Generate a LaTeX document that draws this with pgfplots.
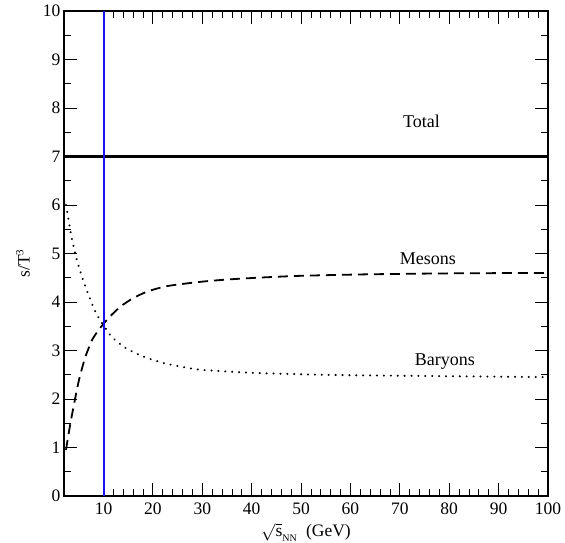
\documentclass[border=0pt]{standalone}
\usepackage{pgfplots}
\pgfplotsset{compat=1.18}
\usepackage{fontspec}
\setmainfont{Liberation Serif}
\definecolor{vblue}{RGB}{20,20,235}
\begin{document}
\begin{tikzpicture}
\begin{axis}[
  scale only axis,
  width=484bp, height=485bp,
  xmin=2, xmax=100, ymin=0, ymax=10,
  xtick={10,20,...,100},
  ytick={0,1,...,10},
  minor x tick num=4,
  minor y tick num=1,
  tick align=inside,
  major tick length=13bp,
  minor tick length=7bp,
  axis line style={line width=2pt},
  major tick style={draw=black, line width=0.8pt},
  minor tick style={draw=black, line width=0.8pt},
  /pgf/number format/assume math mode=true,
  tick label style={font=\fontsize{17.5bp}{20bp}\selectfont},
  xticklabel style={yshift=-3bp},
  xlabel={$\sqrt{\mbox{s}}_{\mbox{\fontsize{10bp}{12bp}\selectfont NN}}$~~(GeV)},
  ylabel={s/T$^{\mbox{\fontsize{11bp}{13bp}\selectfont 3}}$},
  label style={font=\fontsize{17.5bp}{20bp}\selectfont},
  xlabel style={at={(axis description cs:0.5,-0.084)},anchor=base},
  ylabel style={at={(axis description cs:-0.085,0.48)},anchor=center},
]
\addplot[black, line width=2.3pt] table {
x y
2 7
100 7
};
\addplot[draw=black, mark=none, line width=1.8pt, dash pattern=on 10bp off 6bp, smooth, tension=0.4] coordinates {
(2.4,0.95) (3.3,1.5) (4.2,1.98) (5.1,2.42) (6.3,2.86) (7.7,3.22) (9.0,3.42) (10,3.55)
(11.5,3.72) (13.5,3.91) (16,4.08) (19,4.22) (23,4.33) (30,4.42) (36,4.47) (43,4.51)
(50,4.54) (63,4.57) (80,4.59) (100,4.6)};
\addplot[draw=black, mark=none, line width=2.2pt, line cap=round, dash pattern=on 0.1bp off 6.8bp, smooth, tension=0.4] coordinates {
(2.4,6.0) (3.0,5.65) (3.6,5.3) (4.6,4.87) (5.7,4.5) (6.7,4.22) (8.0,3.88) (9.0,3.68)
(10,3.52) (11.5,3.3) (12.8,3.18) (14.5,3.05) (16.8,2.93) (19,2.84) (22.2,2.74)
(26,2.66) (30,2.6) (40,2.54) (50,2.51) (60,2.49) (80,2.47) (100,2.45)};
\addplot[vblue, line width=2pt] table {
x y
10 0
10 10
};
\node[font=\fontsize{18bp}{21bp}\selectfont] at (axis cs:74.4,7.72) {Total};
\node[font=\fontsize{18bp}{21bp}\selectfont] at (axis cs:75.7,4.9) {Mesons};
\node[font=\fontsize{18bp}{21bp}\selectfont] at (axis cs:79.1,2.77) {Baryons};
\end{axis}
\pgfresetboundingbox
\path (-64bp,-47bp) rectangle (501bp,496bp);
\end{tikzpicture}
\end{document}
